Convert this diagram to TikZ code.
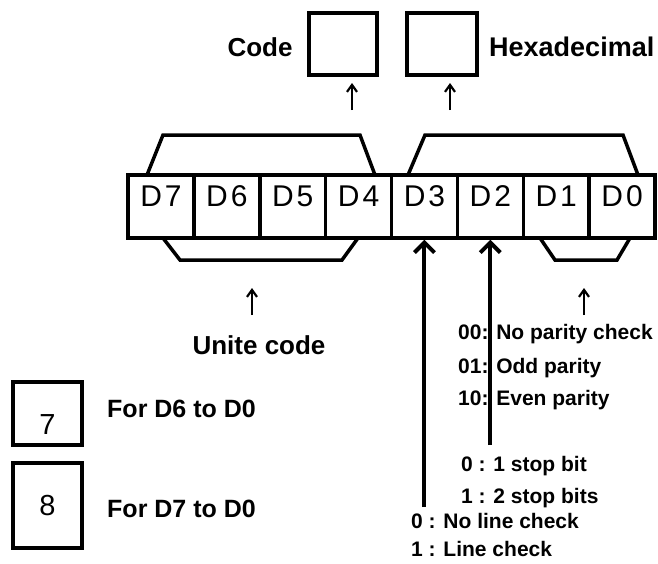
\documentclass[tikz,border=0pt]{standalone}
\usepackage{fontspec}
\setmainfont{Liberation Sans}
\usetikzlibrary{arrows.meta}
\begin{document}
\begin{tikzpicture}[x=1pt,y=-1pt,
  box/.style={draw, line width=3.5pt, inner sep=0pt},
  cell/.style={draw, line width=3.5pt, inner sep=0pt, minimum width=65.875pt, minimum height=63pt, text height=0pt, text depth=0pt, font=\fontsize{30}{30}\selectfont},
  bracket/.style={line width=3.5pt, line join=miter},
  bigarrow/.style={line width=4pt, -{Straight Barb[length=10pt,width=20pt]}},
  smallarrow/.style={line width=2.2pt, -{Straight Barb[length=7pt,width=10pt]}},
  title/.style={font=\fontsize{26}{26}\selectfont\bfseries, inner sep=0pt},
  digit/.style={font=\fontsize{29}{29}\selectfont, text depth=0pt},
  note/.style={font=\fontsize{21}{21}\selectfont\bfseries, inner sep=0pt, anchor=base west},
]
\useasboundingbox (0,0) rectangle (658,563);

% top boxes
\node[box, minimum width=68pt, minimum height=62pt] (codebox) at (343,44) {};
\node[box, minimum width=70pt, minimum height=62pt] (hexbox) at (442,44) {};
\node[title, anchor=base] (codetxt) at (260,56) {Code};
\node[title, anchor=base west, font=\fontsize{27}{27}\selectfont\bfseries] (hextxt) at (489,56) {Hexadecimal};
\coordinate (ca0) at (352,110); \coordinate (ca1) at (352,83);
\coordinate (ha0) at (450,110); \coordinate (ha1) at (450,83);
\draw[smallarrow] (ca0) -- (ca1);
\draw[smallarrow] (ha0) -- (ha1);

% register
\foreach \i/\l in {0/7,1/6,2/5,3/4,4/3,5/2,6/1,7/0}
  \node[cell] (D\l) at ({128+65.875*(\i+0.5)},206.5) {D\kern3pt\l};

% brackets
\draw[bracket] (147,175) -- (163,135) -- (360,135) -- (375,175);
\draw[bracket] (408,175) -- (425,135) -- (623,135) -- (638,175);
\draw[bracket] (163,238) -- (180,260) -- (342,260) -- (358,238);
\draw[bracket] (540,238) -- (555,260) -- (617,260) -- (630,238);

% long arrows
\coordinate (e3) at (D3.south |- 0,507);
\coordinate (e2) at (D2.south |- 0,445);
\draw[bigarrow] (e3) -- (D3.south);
\draw[bigarrow] (e2) -- (D2.south);

% small arrows under brackets
\coordinate (ua0) at (252,315); \coordinate (ua1) at (252,288);
\coordinate (pa0) at (584,315); \coordinate (pa1) at (584,288);
\draw[smallarrow] (ua0) -- (ua1);
\draw[smallarrow] (pa0) -- (pa1);

\node[title, anchor=base] (unite) at (259,354) {Unite code};

% 7 / 8 boxes
\node[box, digit, minimum width=69pt, minimum height=63pt, text height=41pt] (b7) at (47.5,413.5) {7};
\node[box, digit, minimum width=69pt, minimum height=85pt, text height=20pt] (b8) at (47.5,505.5) {8};
\node[title, anchor=base west, font=\fontsize{25}{25}\selectfont\bfseries] (f7) at (107,417) {For D6 to D0};
\node[title, anchor=base west, font=\fontsize{25}{25}\selectfont\bfseries] (f8) at (107,517) {For D7 to D0};

% notes
\node[note] (p0) at (458,339) {00: No parity check};
\node[note] (p1) at (458,373) {01: Odd parity};
\node[note] (p2) at (458,405) {10: Even parity};
\node[note] (s0) at (461,471) {0 : 1 stop bit};
\node[note] (s1) at (461,503) {1 : 2 stop bits};
\node[note] (l0) at (411,528) {0 : No line check};
\node[note] (l1) at (411,556) {1 : Line check};
\end{tikzpicture}
\end{document}
